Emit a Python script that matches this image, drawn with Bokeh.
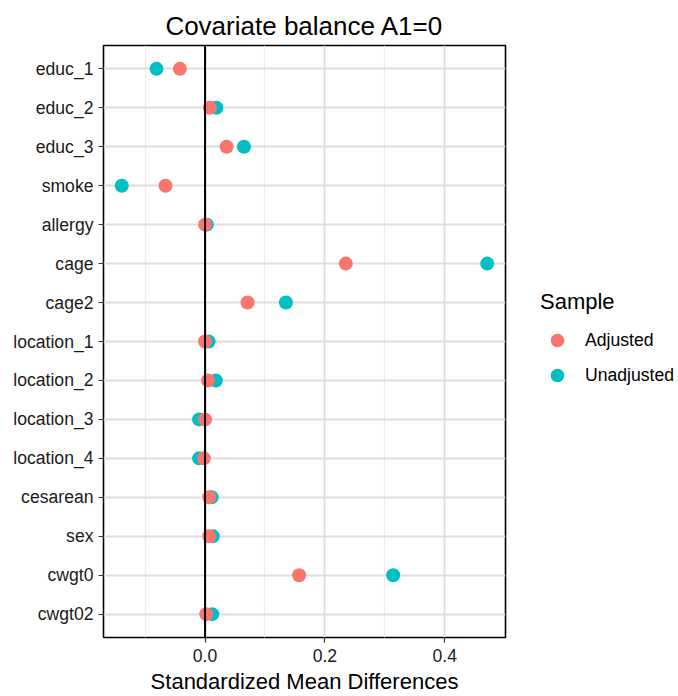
from bokeh.plotting import figure
from bokeh.layouts import row
from bokeh.models import (FactorRange, Range1d, FixedTicker, Span, Legend, LegendItem,
                          ColumnDataSource, CustomJSTickFormatter)
from bokeh.embed import file_html
from bokeh.resources import INLINE

covariates = ["educ_1", "educ_2", "educ_3", "smoke", "allergy", "cage", "cage2",
              "location_1", "location_2", "location_3", "location_4", "cesarean",
              "sex", "cwgt0", "cwgt02"]
adjusted = [-0.042, 0.008, 0.036, -0.066, 0.000, 0.235, 0.071, 0.000, 0.005,
            0.000, -0.002, 0.007, 0.007, 0.157, 0.002]
unadjusted = [-0.081, 0.019, 0.065, -0.139, 0.003, 0.471, 0.135, 0.006, 0.018,
              -0.010, -0.010, 0.011, 0.013, 0.314, 0.012]
x_ticks = [0.0, 0.2, 0.4]
x_minor = [-0.1, 0.1, 0.3]
sample_labels = ["Adjusted", "Unadjusted"]
colors = ["#F8766D", "#00BFC4"]

FONT = "Liberation Sans"

allv = adjusted + unadjusted
lo, hi = min(allv), max(allv)
pad = (hi - lo) * 0.05

p = figure(width=508, height=696, output_backend="svg", toolbar_location=None,
           y_range=FactorRange(factors=list(reversed(covariates)), range_padding=0.1,
                               range_padding_units="absolute"),
           x_range=Range1d(lo - pad, hi + pad),
           min_border_left=103, min_border_right=3, min_border_top=45, min_border_bottom=59,
           title="Covariate balance A1=0")

p.background_fill_color = "white"
p.border_fill_color = "white"
p.outline_line_color = "black"
p.outline_line_width = 1.6

p.title.align = "center"
p.title.text_font = FONT
p.title.text_font_size = "26px"
p.title.text_font_style = "normal"
p.title.text_color = "black"
p.title.standoff = 10

src_u = ColumnDataSource(dict(x=unadjusted, y=covariates))
src_a = ColumnDataSource(dict(x=adjusted, y=covariates))

# grid
p.ygrid.grid_line_color = "#DEDEDE"
p.ygrid.grid_line_width = 2
p.xgrid.ticker = FixedTicker(ticks=x_ticks, minor_ticks=x_minor)
p.xgrid.grid_line_color = "#DEDEDE"
p.xgrid.grid_line_width = 2
p.xgrid.minor_grid_line_color = "#EDEDED"
p.xgrid.minor_grid_line_width = 1.2

p.add_layout(Span(location=0, dimension="height", line_color="black", line_width=2))

r_u = p.scatter("x", "y", source=src_u, size=14, fill_color=colors[1], line_color=None)
r_a = p.scatter("x", "y", source=src_a, size=14, fill_color=colors[0], line_color=None)

# axes
p.xaxis.ticker = FixedTicker(ticks=x_ticks)
p.xaxis.formatter = CustomJSTickFormatter(code="return tick.toFixed(1);")
p.xaxis.axis_label = "Standardized Mean Differences"
for ax in (p.xaxis[0], p.yaxis[0]):
    ax.axis_line_color = None
    ax.major_tick_line_color = "#333333"
    ax.major_tick_line_width = 1.2
    ax.major_tick_out = 5
    ax.major_tick_in = 0
    ax.minor_tick_line_color = None
    ax.major_label_text_font = FONT
    ax.major_label_text_font_size = "17.6px"
    ax.major_label_text_color = "#1A1A1A"
    ax.axis_label_text_font = FONT
    ax.axis_label_text_font_size = "22px"
    ax.axis_label_text_font_style = "normal"
    ax.axis_label_text_color = "black"
p.xaxis.major_label_standoff = 6
p.xaxis.axis_label_standoff = 4
p.yaxis.major_label_standoff = 5

# legend panel (separate canvas to the right of the plot); its key renderers reuse
# the same sources, but its ranges keep those points out of view
lg = figure(width=170, height=696, output_backend="svg", toolbar_location=None,
            x_axis_type=None, y_axis_type=None,
            x_range=Range1d(10, 11), y_range=Range1d(10, 11),
            min_border_left=0, min_border_right=0, min_border_top=0, min_border_bottom=0)
lg.outline_line_color = None
lg.background_fill_color = "white"
lg.border_fill_color = "white"
k_a = lg.scatter("x", "x", source=src_a, size=14, fill_color=colors[0], line_color=None)
k_u = lg.scatter("x", "x", source=src_u, size=14, fill_color=colors[1], line_color=None)

legend = Legend(items=[LegendItem(label=sample_labels[0], renderers=[k_a]),
                       LegendItem(label=sample_labels[1], renderers=[k_u])],
                location=(32, 245), title="Sample")
legend.margin = 0
legend.padding = 0
legend.border_line_color = None
legend.background_fill_alpha = 0
legend.title_text_font = FONT
legend.title_text_font_size = "22px"
legend.title_text_font_style = "normal"
legend.title_text_color = "black"
legend.title_standoff = 8
legend.label_text_font = FONT
legend.label_text_font_size = "17.6px"
legend.label_text_color = "black"
legend.glyph_width = 34
legend.glyph_height = 34
legend.label_standoff = 11
legend.spacing = 1
lg.add_layout(legend, "center")

layout = row(p, lg)
open("out.html", "w").write(file_html(layout, INLINE))
